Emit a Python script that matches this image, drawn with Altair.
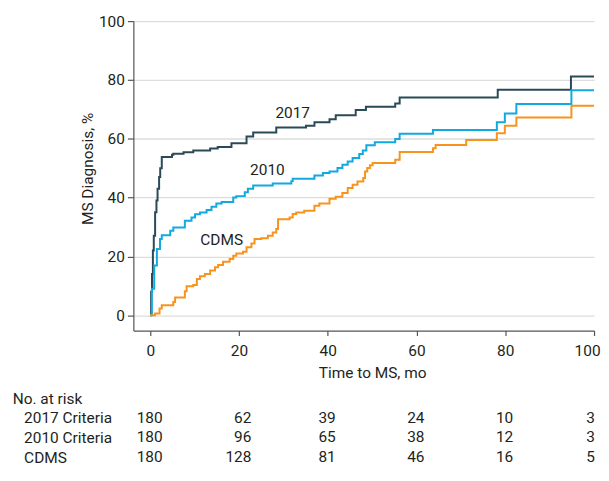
import altair as alt
import pandas as pd

FONT = "Roboto"
FS = 15.5
TXT = "#231f20"

series_names = ["2017", "2010", "CDMS"]
series_colors = ["#2b4a58", "#12a9e1", "#f7941e"]

t_2017 = [0, 0.2, 0.4, 0.6, 0.8, 1.1, 1.4, 1.65, 2.0, 2.25, 2.6, 4.9, 5.2, 7.5, 9.7,
          13.5, 15.2, 18.3, 21.7, 23.2, 28.4, 35.1, 37.0, 40.4, 41.8, 46.3, 48.6,
          55.2, 56.2, 78.3, 94.8, 100]
y_2017 = [0, 8, 14, 22, 27, 35, 39, 43, 47, 50, 53.8, 54.6, 54.9, 55.4, 56.0,
          56.7, 57.2, 58.5, 60.8, 62.1, 63.8, 64.4, 65.6, 66.6, 68.0, 69.8, 70.9,
          72.0, 74.0, 76.7, 81.2, 81.2]

t_2010 = [0, 0.37, 0.9, 1.5, 2.2, 2.6, 4.5, 5.2, 7.8, 9.3, 10.1, 11.2, 12.7, 13.8,
          14.9, 16.1, 18.7, 19.4, 21.3, 22.0, 23.2, 27.6, 31.8, 32.1, 37.0, 38.9,
          40.4, 42.2, 43.3, 44.5, 45.6, 47.1, 47.9, 48.7, 50.6, 55.2, 56.2, 63.7,
          78.1, 79.9, 82.5, 94.9, 100]
y_2010 = [0, 9, 16.9, 22.5, 25.9, 27.2, 28.7, 29.8, 32.1, 33.2, 34.3, 34.9, 35.8, 36.9,
          38.0, 38.5, 40.0, 40.5, 41.8, 43.0, 44.1, 44.8, 45.6, 46.4, 47.5, 48.4,
          48.9, 50.1, 51.2, 52.3, 53.5, 54.8, 56.0, 57.8, 58.8, 59.9, 61.7, 63.0,
          65.6, 68.6, 71.8, 76.5, 76.5]

t_cdms = [0, 1.1, 2.1, 2.6, 5.2, 5.6, 7.8, 8.2, 9.7, 10.5, 11.2, 12.3, 13.5, 14.6,
          15.3, 16.4, 17.9, 18.7, 19.4, 20.9, 21.7, 22.8, 23.5, 25.0, 26.5, 27.6,
          28.4, 28.8, 31.4, 32.1, 32.9, 34.7, 37.0, 38.1, 40.4, 41.8, 43.3, 44.5,
          45.6, 46.7, 48.0, 48.4, 48.9, 49.5, 50.1, 55.2, 56.2, 63.7, 64.3, 71.2,
          78.1, 79.9, 82.5, 94.9, 100]
y_cdms = [0, 0.6, 2.3, 3.4, 4.5, 6.0, 8.2, 9.9, 10.3, 12.3, 13.3, 14.0, 15.2, 16.3,
          17.1, 18.2, 19.1, 20.2, 21.0, 21.6, 23.1, 24.4, 25.9, 26.2, 27.0, 28.1,
          29.3, 32.6, 33.2, 34.4, 34.9, 35.5, 37.2, 38.0, 39.6, 40.3, 41.6, 43.3,
          44.4, 45.5, 46.7, 48.9, 50.1, 51.0, 51.8, 52.9, 55.5, 56.8, 57.9, 59.6,
          61.9, 64.4, 67.2, 71.2, 71.2]

label_x = [32.1, 26.4, 16.1]
label_y = [68.9, 49.5, 25.6]

x_ticks = [0, 20, 40, 60, 80, 100]
y_ticks = [0, 20, 40, 60, 80, 100]

risk_rows = ["2017 Criteria", "2010 Criteria", "CDMS"]
risk_2017 = [180, 62, 39, 24, 10, 3]
risk_2010 = [180, 96, 65, 38, 12, 3]
risk_cdms = [180, 128, 81, 46, 16, 5]

# ---- data frames
curve_rows = []
for name, ts, ys in zip(series_names, [t_2017, t_2010, t_cdms], [y_2017, y_2010, y_cdms]):
    for t, y in zip(ts, ys):
        curve_rows.append({"series": name, "time": t, "pct": y})
curves = pd.DataFrame(curve_rows)

labels = pd.DataFrame({"series": series_names, "time": label_x, "pct": label_y})

risk_list = []
for row, vals in zip(risk_rows, [risk_2017, risk_2010, risk_cdms]):
    for t, n in zip(x_ticks, vals):
        grp = "wide" if t <= 20 else ("mid" if t < 100 else "end")
        risk_list.append({"row": row, "time": t, "n": n, "grp": grp})
risk = pd.DataFrame(risk_list)

xscale = alt.Scale(domain=[-3.8, 100], nice=False, zero=False)
yscale = alt.Scale(domain=[-5.2, 100], nice=False, zero=False)

lines = alt.Chart(curves).mark_line(interpolate="step-after", strokeWidth=2).encode(
    x=alt.X("time:Q", scale=xscale,
            axis=alt.Axis(values=x_ticks, title="Time to MS, mo", grid=False,
                          tickSize=5, labelPadding=8, titlePadding=7, titleX=240,
                          labelFlush=False,
                          labelOffset={"expr": "datum.value == 100 ? -7 : 0"},
                          domainColor="#555555", tickColor="#555555")),
    y=alt.Y("pct:Q", scale=yscale,
            axis=alt.Axis(values=y_ticks, title="MS Diagnosis, %", grid=True,
                          gridColor="#dddddd", gridWidth=1.3,
                          tickSize=6, labelPadding=3, titlePadding=3, titleY=148,
                          domainColor="#555555", tickColor="#555555")),
    color=alt.Color("series:N", scale=alt.Scale(domain=series_names, range=series_colors),
                    legend=None),
    detail="series:N",
)

texts = alt.Chart(labels).mark_text(font=FONT, fontSize=FS, color=TXT).encode(
    x=alt.X("time:Q", scale=xscale),
    y=alt.Y("pct:Q", scale=yscale),
    text="series:N",
)

top = alt.layer(lines, texts).properties(width=463, height=311)

base = alt.Chart(risk).encode(
    x=alt.X("time:Q", scale=xscale, axis=None),
    y=alt.Y("row:N", sort=risk_rows,
            scale=alt.Scale(paddingInner=0, paddingOuter=0),
            axis=alt.Axis(title=None, domain=False, ticks=False, tickSize=0,
                          labelAlign="left", labelPadding=110.3, labelFont=FONT,
                          labelFontSize=FS, labelColor=TXT)),
    text="n:Q",
)
t_wide = base.transform_filter(alt.datum.grp == "wide").mark_text(
    font=FONT, fontSize=FS, color=TXT, align="right", dx=12.5)
t_mid = base.transform_filter(alt.datum.grp == "mid").mark_text(
    font=FONT, fontSize=FS, color=TXT, align="right", dx=8)
t_end = base.transform_filter(alt.datum.grp == "end").mark_text(
    font=FONT, fontSize=FS, color=TXT, align="right", dx=1)

table = alt.layer(t_wide, t_mid, t_end).properties(
    width=463, height=60,
    title=alt.TitleParams("No. at risk", anchor="start", frame="group", dx=-121.3,
                          fontSize=FS, fontWeight="normal", font=FONT, color=TXT,
                          offset=0),
)

chart = alt.vconcat(top, table, spacing=10.5).properties(
    padding={"left": 4, "top": 5, "right": 0, "bottom": 5}
).configure_view(strokeWidth=0).configure_axis(
    labelFont=FONT, titleFont=FONT, labelFontSize=FS, titleFontSize=FS,
    labelColor=TXT, titleColor=TXT, titleFontWeight="normal", domainWidth=1.2,
    tickWidth=1.2,
)

chart.save("out.html", embed_options={"renderer": "svg", "actions": False})
